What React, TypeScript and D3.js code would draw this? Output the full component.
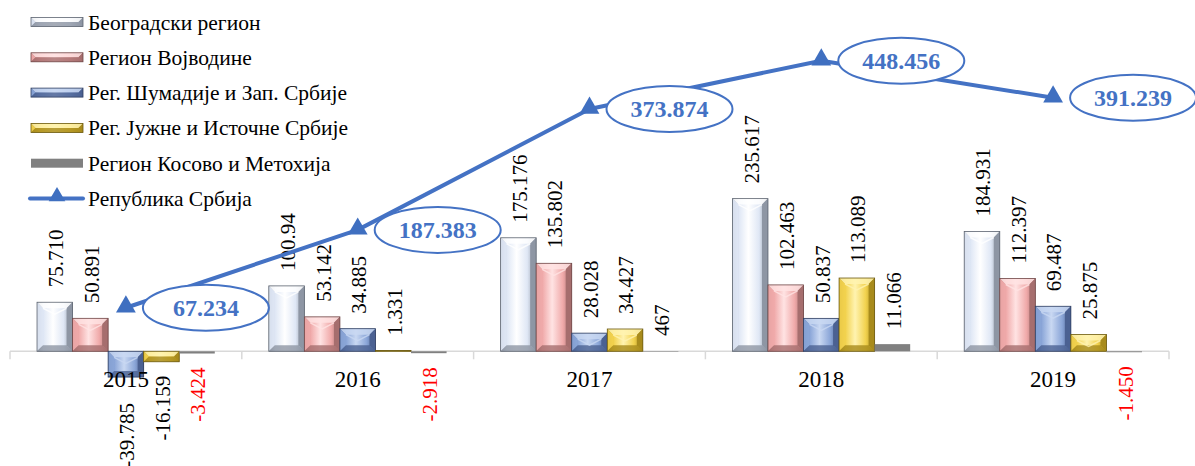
import React from "react";
import * as d3 from "d3";

const years = ["2015", "2016", "2017", "2018", "2019"];

const seriesNames = [
  "Београдски регион",
  "Регион Војводине",
  "Рег. Шумадије и Зап. Србије",
  "Рег. Јужне и Источне Србије",
  "Регион Косово и Метохија",
];

const beograd = [75.71, 100.94, 175.176, 235.617, 184.931];
const vojvodina = [50.891, 53.142, 135.802, 102.463, 112.397];
const sumadija = [-39.785, 34.885, 28.028, 50.837, 69.487];
const jug = [-16.159, 1.331, 34.427, 113.089, 25.875];
const kosovo = [-3.424, -2.918, 0.467, 11.066, -1.45];

const beogradLabels = ["75.710", "100.94", "175.176", "235.617", "184.931"];
const vojvodinaLabels = ["50.891", "53.142", "135.802", "102.463", "112.397"];
const sumadijaLabels = ["-39.785", "34.885", "28.028", "50.837", "69.487"];
const jugLabels = ["-16.159", "1.331", "34.427", "113.089", "25.875"];
const kosovoLabels = ["-3.424", "-2.918", "467", "11.066", "-1.450"];

const totalName = "Република Србија";
const total = [67.234, 187.383, 373.874, 448.456, 391.239];
const totalLabels = ["67.234", "187.383", "373.874", "448.456", "391.239"];

const seriesValues = [beograd, vojvodina, sumadija, jug, kosovo];
const seriesLabels = [beogradLabels, vojvodinaLabels, sumadijaLabels, jugLabels, kosovoLabels];

// light, face, dark edge, outline
const palette = [
  { light: "#ffffff", face: "#dfe7f5", dark: "#8e96a4", line: "#5d6470" },
  { light: "#ffe3e3", face: "#f0aaaa", dark: "#a66e6e", line: "#6e4646" },
  { light: "#c9d8f2", face: "#8ba6d8", dark: "#4b6192", line: "#2f3e60" },
  { light: "#fff3b0", face: "#f2d24e", dark: "#a88b1c", line: "#6b5910" },
  null,
];

const blue = "#4472c4";
const serif = "Liberation Serif";

const W = 1195;
const H = 466;

function BevelBar({ x, y, w, h, c, id }: any) {
  if (!c) return <rect x={x} y={y} width={w} height={Math.max(h, 0.5)} fill="#808080" />;
  const b = Math.min(6, h / 2, w / 2);
  return (
    <g>
      <rect x={x} y={y} width={w} height={h} fill={`url(#g${id})`} />
      <polygon points={`${x},${y} ${x + w},${y} ${x + w - b},${y + b} ${x + b},${y + b}`} fill={c.light} opacity={0.85} />
      <polygon points={`${x},${y} ${x + b},${y + b} ${x + b},${y + h - b} ${x},${y + h}`} fill={c.face} opacity={0.9} />
      <polygon points={`${x + w},${y} ${x + w - b},${y + b} ${x + w - b},${y + h - b} ${x + w},${y + h}`} fill={c.dark} />
      <polygon points={`${x},${y + h} ${x + b},${y + h - b} ${x + w - b},${y + h - b} ${x + w},${y + h}`} fill={c.dark} opacity={0.8} />
      {h > 14 && (
        <polyline
          points={`${x + b},${y + b} ${x + w / 2},${y + b + 6} ${x + w - b},${y + b}`}
          fill="none"
          stroke={c.light}
          strokeWidth={1.5}
          opacity={0.8}
        />
      )}
      <rect x={x} y={y} width={w} height={h} fill="none" stroke={c.line} strokeWidth={0.8} />
    </g>
  );
}

export default function App() {
  const x = d3.scaleBand<string>().domain(years).range([10, 1169]).padding(0);
  const xs = d3
    .scaleBand<number>()
    .domain(d3.range(seriesNames.length))
    .range([0, x.bandwidth()])
    .paddingInner(0)
    .paddingOuter(0.76);
  const y = d3.scaleLinear().domain([-100, 500]).range([416.1, 27.3]);
  const y0 = y(0);

  const pts = total.map((v, i) => [x(years[i])! + x.bandwidth() / 2, y(v)] as [number, number]);
  const line = d3.line()(pts) || "";
  const tri = d3.symbol(d3.symbolTriangle, 170)() || "";
  const triSmall = d3.symbol(d3.symbolTriangle, 120)() || "";

  const legendY = d3.range(6).map((i) => 22 + i * 35.3);

  return (
    <svg width={W} height={H} style={{ position: "absolute", left: 0, top: 0, background: "#fff" }}>
      <defs>
        {palette.map((c, i) =>
          c ? (
            <linearGradient key={i} id={`g${i}`} x1="0" x2="1" y1="0" y2="0">
              <stop offset="0%" stopColor={c.dark} />
              <stop offset="18%" stopColor={c.face} />
              <stop offset="45%" stopColor={c.light} />
              <stop offset="75%" stopColor={c.face} />
              <stop offset="100%" stopColor={c.dark} />
            </linearGradient>
          ) : null
        )}
      </defs>

      {/* axis */}
      <line x1={10} x2={1169} y1={y0} y2={y0} stroke="#d9d9d9" strokeWidth={1.5} />
      {[...years.map((yr) => x(yr)!), 1169].map((t, i) => (
        <line key={i} x1={t} x2={t} y1={y0} y2={y0 + 8} stroke="#d9d9d9" strokeWidth={1.5} />
      ))}

      {/* bars */}
      {years.map((yr, i) =>
        seriesValues.map((vals, s) => {
          const v = vals[i];
          const bx = x(yr)! + xs(s)!;
          const top = Math.min(y(v), y0);
          const h = Math.abs(y(v) - y0);
          return <BevelBar key={`${yr}-${s}`} x={bx} y={top} w={xs.bandwidth()} h={h} c={palette[s]} id={s} />;
        })
      )}

      {/* category labels */}
      {years.map((yr) => (
        <text
          key={yr}
          x={x(yr)! + x.bandwidth() / 2}
          y={387}
          textAnchor="middle"
          style={{ fontFamily: serif }}
          fontSize={23}
          fill="#000"
        >
          {yr}
        </text>
      ))}

      {/* bar labels */}
      {years.map((yr, i) =>
        seriesValues.map((vals, s) => {
          const v = vals[i];
          const cx = x(yr)! + xs(s)! + xs.bandwidth() / 2;
          const neg = v < 0;
          // the large negative label sits below the category label
          const extra = neg && y(v) > 370 ? 12 : 0;
          const ly = neg ? y(v) + 14 + extra : y(v) - 15;
          return (
            <text
              key={`l${yr}-${s}`}
              transform={`translate(${cx + 1},${ly}) rotate(-90)`}
              textAnchor={neg ? "end" : "start"}
              dy="0.35em"
              style={{ fontFamily: serif }}
              fontSize={21}
              fill={neg && s === 4 ? "#ff0000" : "#000"}
            >
              {seriesLabels[s][i]}
            </text>
          );
        })
      )}

      {/* total line */}
      <path d={line} fill="none" stroke={blue} strokeWidth={4} strokeLinejoin="round" />
      {pts.map((p, i) => (
        <path key={i} d={tri} transform={`translate(${p[0]},${p[1] - 1})`} fill="#3f6fc0" />
      ))}
      {pts.map((p, i) => (
        <g key={`e${i}`} transform={`translate(${p[0] + 80},${p[1]})`}>
          <ellipse rx={63} ry={23} fill="#fff" stroke={blue} strokeWidth={2} />
          <text
            textAnchor="middle"
            dy="0.35em"
            style={{ fontFamily: serif }}
            fontWeight="bold"
            fontSize={24}
            fill={blue}
          >
            {totalLabels[i]}
          </text>
        </g>
      ))}

      {/* legend */}
      {seriesNames.map((name, s) => (
        <g key={name} transform={`translate(0,${legendY[s]})`}>
          {palette[s] ? (
            <BevelBar x={31} y={-4.5} w={52} h={9} c={palette[s]} id={s} />
          ) : (
            <rect x={31} y={-4.5} width={52} height={9} fill="#808080" />
          )}
          <text x={88} dy="0.35em" style={{ fontFamily: serif }} fontSize={21.5} fill="#000">
            {name}
          </text>
        </g>
      ))}
      <g transform={`translate(0,${legendY[5]})`}>
        <line x1={30} x2={83} y1={0} y2={0} stroke={blue} strokeWidth={4} strokeLinecap="round" />
        <path d={triSmall} transform="translate(57,-2)" fill="#3f6fc0" />
        <text x={88} dy="0.35em" style={{ fontFamily: serif }} fontSize={21.5} fill="#000">
          {totalName}
        </text>
      </g>
    </svg>
  );
}
